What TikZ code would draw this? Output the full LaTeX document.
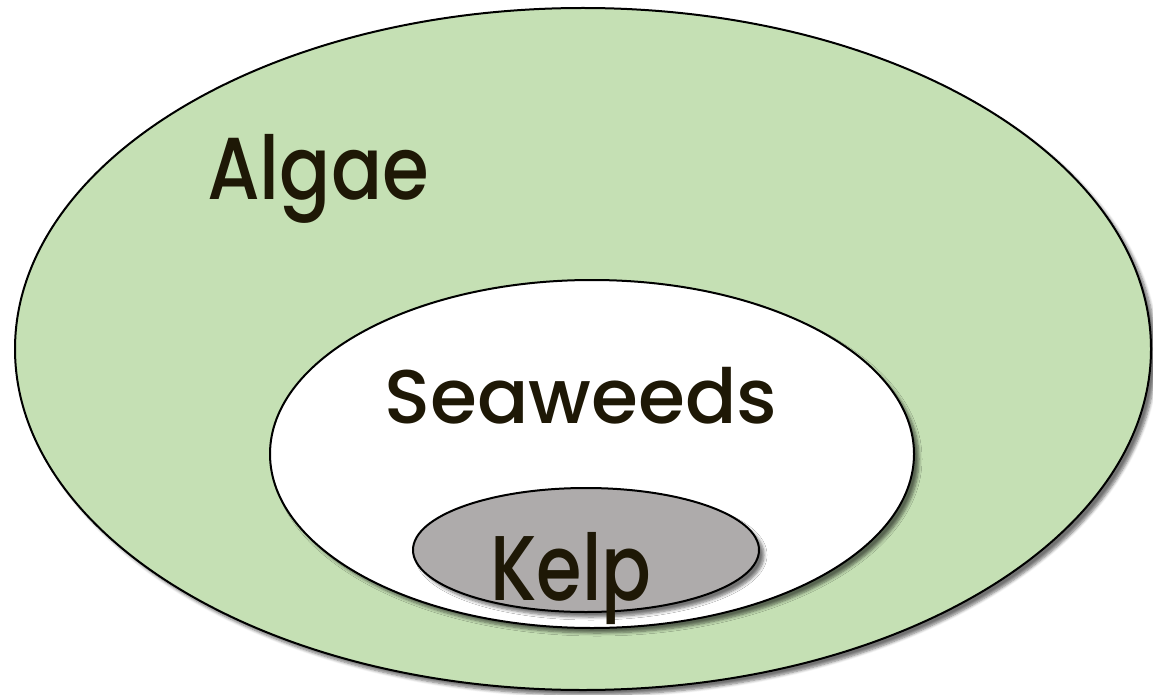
\documentclass[tikz,border=0pt]{standalone}
\usepackage{fontspec}
\setmainfont{Poppins Medium}
\usepackage{tikz}
\usetikzlibrary{shapes.geometric,shadows.blur}
\usepackage{xcolor}
\definecolor{mygreen}{RGB}{197,224,180}
\definecolor{mygray}{RGB}{174,171,171}
\definecolor{mytext}{RGB}{30,24,6}

\begin{document}
\begin{tikzpicture}[x=1pt,y=-1pt,
  set/.style={draw, ellipse, line width=2pt, inner sep=0pt, outer sep=0pt,
    blur shadow={shadow xshift=5pt, shadow yshift=-5pt, shadow blur radius=3pt, shadow blur steps=6, shadow opacity=55}},
  lbl/.style={text=mytext, inner sep=0pt, transform shape}]
  \useasboundingbox (0,0) rectangle (1153,695);
  \node[set, fill=mygreen, minimum width=1136pt, minimum height=682pt] (algae) at (583,349) {};
  \node[set, fill=white, minimum width=644pt, minimum height=348pt] (seaweeds) at (592,454) {};
  \node[set, fill=mygray, minimum width=346pt, minimum height=124pt] (kelp) at (586,550) {};
  \node[lbl, anchor=base west, xscale=0.86] (algaetxt) at (207,200) {\fontsize{88}{100}\selectfont Algae};
  \node[lbl, anchor=base] (seaweedstxt) at (581,423) {\fontsize{76}{88}\selectfont Seaweeds};
  \node[lbl, anchor=base, xscale=0.8] (kelptxt) at (571,600) {\fontsize{92}{100}\selectfont Kelp};
\end{tikzpicture}
\end{document}
